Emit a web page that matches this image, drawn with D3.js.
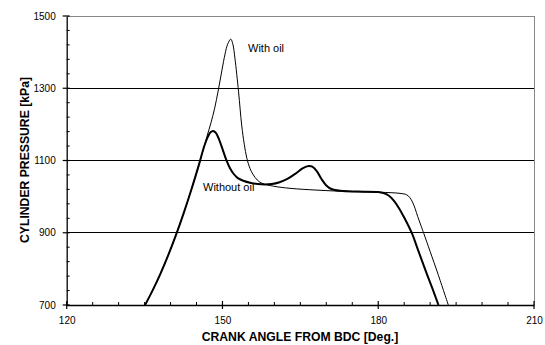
<!DOCTYPE html>
<html>
<head>
<meta charset="utf-8">
<script src="https://cdn.jsdelivr.net/npm/d3@7/dist/d3.min.js"></script>
<style>
  html, body { margin: 0; padding: 0; background: #fff; }
  svg { display: block; font-family: Arial, "Liberation Sans", sans-serif; }
</style>
</head>
<body>
<svg id="chart" width="545" height="345"></svg>
<script>
// ---- Data ----
const xTicks = [120, 150, 180, 210];
const yTicks = [700, 900, 1100, 1300, 1500];

const withoutOilAngle = [135.1, 136.5, 138.0, 139.5, 141.0, 142.5, 144.0, 145.5, 146.5, 147.2, 147.7, 148.2, 148.7, 149.3, 150.0, 150.7, 151.4, 152.1, 152.9, 154.0, 155.5, 157.5, 159.5, 161.0, 162.5, 164.0, 165.5, 166.6, 167.3, 168.2, 169.1, 170.0, 171.0, 172.7, 176.0, 180.0, 181.0, 182.0, 183.0, 184.0, 185.0, 186.5, 187.5, 189.0, 190.5, 191.6];
const withoutOilPressure = [700, 739, 785, 836, 892, 953, 1019, 1090, 1140, 1166, 1178, 1182, 1177, 1160, 1132, 1103, 1080, 1064, 1052, 1044, 1038, 1034, 1035, 1040, 1049, 1063, 1079, 1085, 1083, 1070, 1048, 1031, 1021, 1016, 1014, 1013, 1010, 1003, 989, 968, 942, 898, 859, 800, 743, 700];

const withOilAngle = [135.1, 136.5, 138.0, 139.5, 141.0, 142.5, 144.0, 145.5, 146.5, 147.0, 147.8, 148.5, 149.2, 149.9, 150.5, 151.0, 151.6, 152.0, 152.4, 153.1, 153.7, 154.2, 154.7, 155.3, 155.95, 156.7, 157.6, 159.8, 163.0, 168.2, 174.6, 180.4, 184.2, 185.5, 186.1, 186.6, 187.1, 187.6, 188.2, 188.8, 190.0, 191.5, 193.5];
const withOilPressure = [700, 739, 785, 836, 892, 953, 1019, 1090, 1140, 1166, 1205, 1245, 1295, 1350, 1395, 1422, 1436, 1422, 1383, 1290, 1198, 1145, 1106, 1078, 1060, 1046, 1037, 1029, 1023, 1018, 1014, 1012, 1009, 1005, 997, 985, 967, 945, 921, 897, 848, 786, 700];

const labelWith = "With oil";
const labelWithout = "Without oil";
const xTitle = "CRANK ANGLE FROM BDC [Deg.]";
const yTitle = "CYLINDER PRESSURE [kPa]";

// ---- Layout ----
const svg = d3.select("#chart");
const L = 66.7, R = 534, T = 16, B = 305;

const x = d3.scaleLinear().domain([120, 210]).range([L, R]);
const y = d3.scaleLinear().domain([700, 1500]).range([B, T]);

// gridlines (inner)
svg.append("g").selectAll("line")
  .data([900, 1100, 1300])
  .join("line")
  .attr("x1", L).attr("x2", R)
  .attr("y1", d => y(d)).attr("y2", d => y(d))
  .attr("stroke", "#000").attr("stroke-width", 1).attr("shape-rendering", "crispEdges");

// top & right frame (gray)
svg.append("line").attr("x1", L).attr("x2", R).attr("y1", y(1500)).attr("y2", y(1500))
  .attr("stroke", "#888").attr("shape-rendering", "crispEdges");
svg.append("line").attr("x1", R).attr("x2", R).attr("y1", T).attr("y2", B)
  .attr("stroke", "#888").attr("shape-rendering", "crispEdges");

// minor ticks
const xMinor = d3.range(125, 210, 5).filter(v => !xTicks.includes(v));
const yMinor = d3.range(740, 1500, 40).filter(v => !yTicks.includes(v));

const fmt = d3.format("d");

const xAxis = svg.append("g").attr("transform", `translate(0,${B})`);
xAxis.call(d3.axisBottom(x).tickValues(xTicks).tickFormat(fmt).tickSize(0).tickPadding(12));
xAxis.select(".domain").attr("stroke", "#000").attr("stroke-width", 1.3);
xAxis.selectAll("text").attr("font-size", "10px").attr("fill", "#000")
  .attr("font-family", "Arial, 'Liberation Sans', sans-serif");
xAxis.selectAll(".maj").data(xTicks).join("line").attr("class", "maj")
  .attr("x1", d => x(d)).attr("x2", d => x(d)).attr("y1", -4).attr("y2", 4)
  .attr("stroke", "#000").attr("stroke-width", 1.2);
xAxis.selectAll(".min").data(xMinor).join("line").attr("class", "min")
  .attr("x1", d => x(d)).attr("x2", d => x(d)).attr("y1", -3).attr("y2", 0)
  .attr("stroke", "#000").attr("stroke-width", 1);

const yAxis = svg.append("g").attr("transform", `translate(${L},0)`);
yAxis.call(d3.axisLeft(y).tickValues(yTicks).tickFormat(fmt).tickSize(0).tickPadding(11));
yAxis.select(".domain").attr("stroke", "#000").attr("stroke-width", 1.3);
yAxis.selectAll("text").attr("font-size", "10px").attr("fill", "#000")
  .attr("font-family", "Arial, 'Liberation Sans', sans-serif");
yAxis.selectAll(".maj").data(yTicks).join("line").attr("class", "maj")
  .attr("x1", -4).attr("x2", 3).attr("y1", d => y(d)).attr("y2", d => y(d))
  .attr("stroke", "#000").attr("stroke-width", 1.2);
yAxis.selectAll(".min").data(yMinor).join("line").attr("class", "min")
  .attr("x1", 0).attr("x2", 3).attr("y1", d => y(d)).attr("y2", d => y(d))
  .attr("stroke", "#000").attr("stroke-width", 1);

// curves
const line = d3.line().x(d => x(d[0])).y(d => y(d[1])).curve(d3.curveCatmullRom.alpha(0.5));
const withData = withOilAngle.map((a, i) => [a, withOilPressure[i]]);
const withoutData = withoutOilAngle.map((a, i) => [a, withoutOilPressure[i]]);

svg.append("path").attr("d", line(withData))
  .attr("fill", "none").attr("stroke", "#000").attr("stroke-width", 1);
svg.append("path").attr("d", line(withoutData))
  .attr("fill", "none").attr("stroke", "#000").attr("stroke-width", 2);

// labels
svg.append("text").attr("x", 248).attr("y", 51.5).text(labelWith)
  .attr("font-size", "11px").attr("fill", "#000");
svg.append("text").attr("x", 203).attr("y", 191).text(labelWithout)
  .attr("font-size", "11px").attr("fill", "#000");

// titles
svg.append("text").attr("x", 300).attr("y", 341).attr("text-anchor", "middle")
  .attr("font-size", "12.2px").attr("font-weight", "bold").text(xTitle);
svg.append("text").attr("transform", "translate(29,160) rotate(-90)")
  .attr("text-anchor", "middle")
  .attr("font-size", "12.2px").attr("font-weight", "bold").text(yTitle);
</script>
</body>
</html>
